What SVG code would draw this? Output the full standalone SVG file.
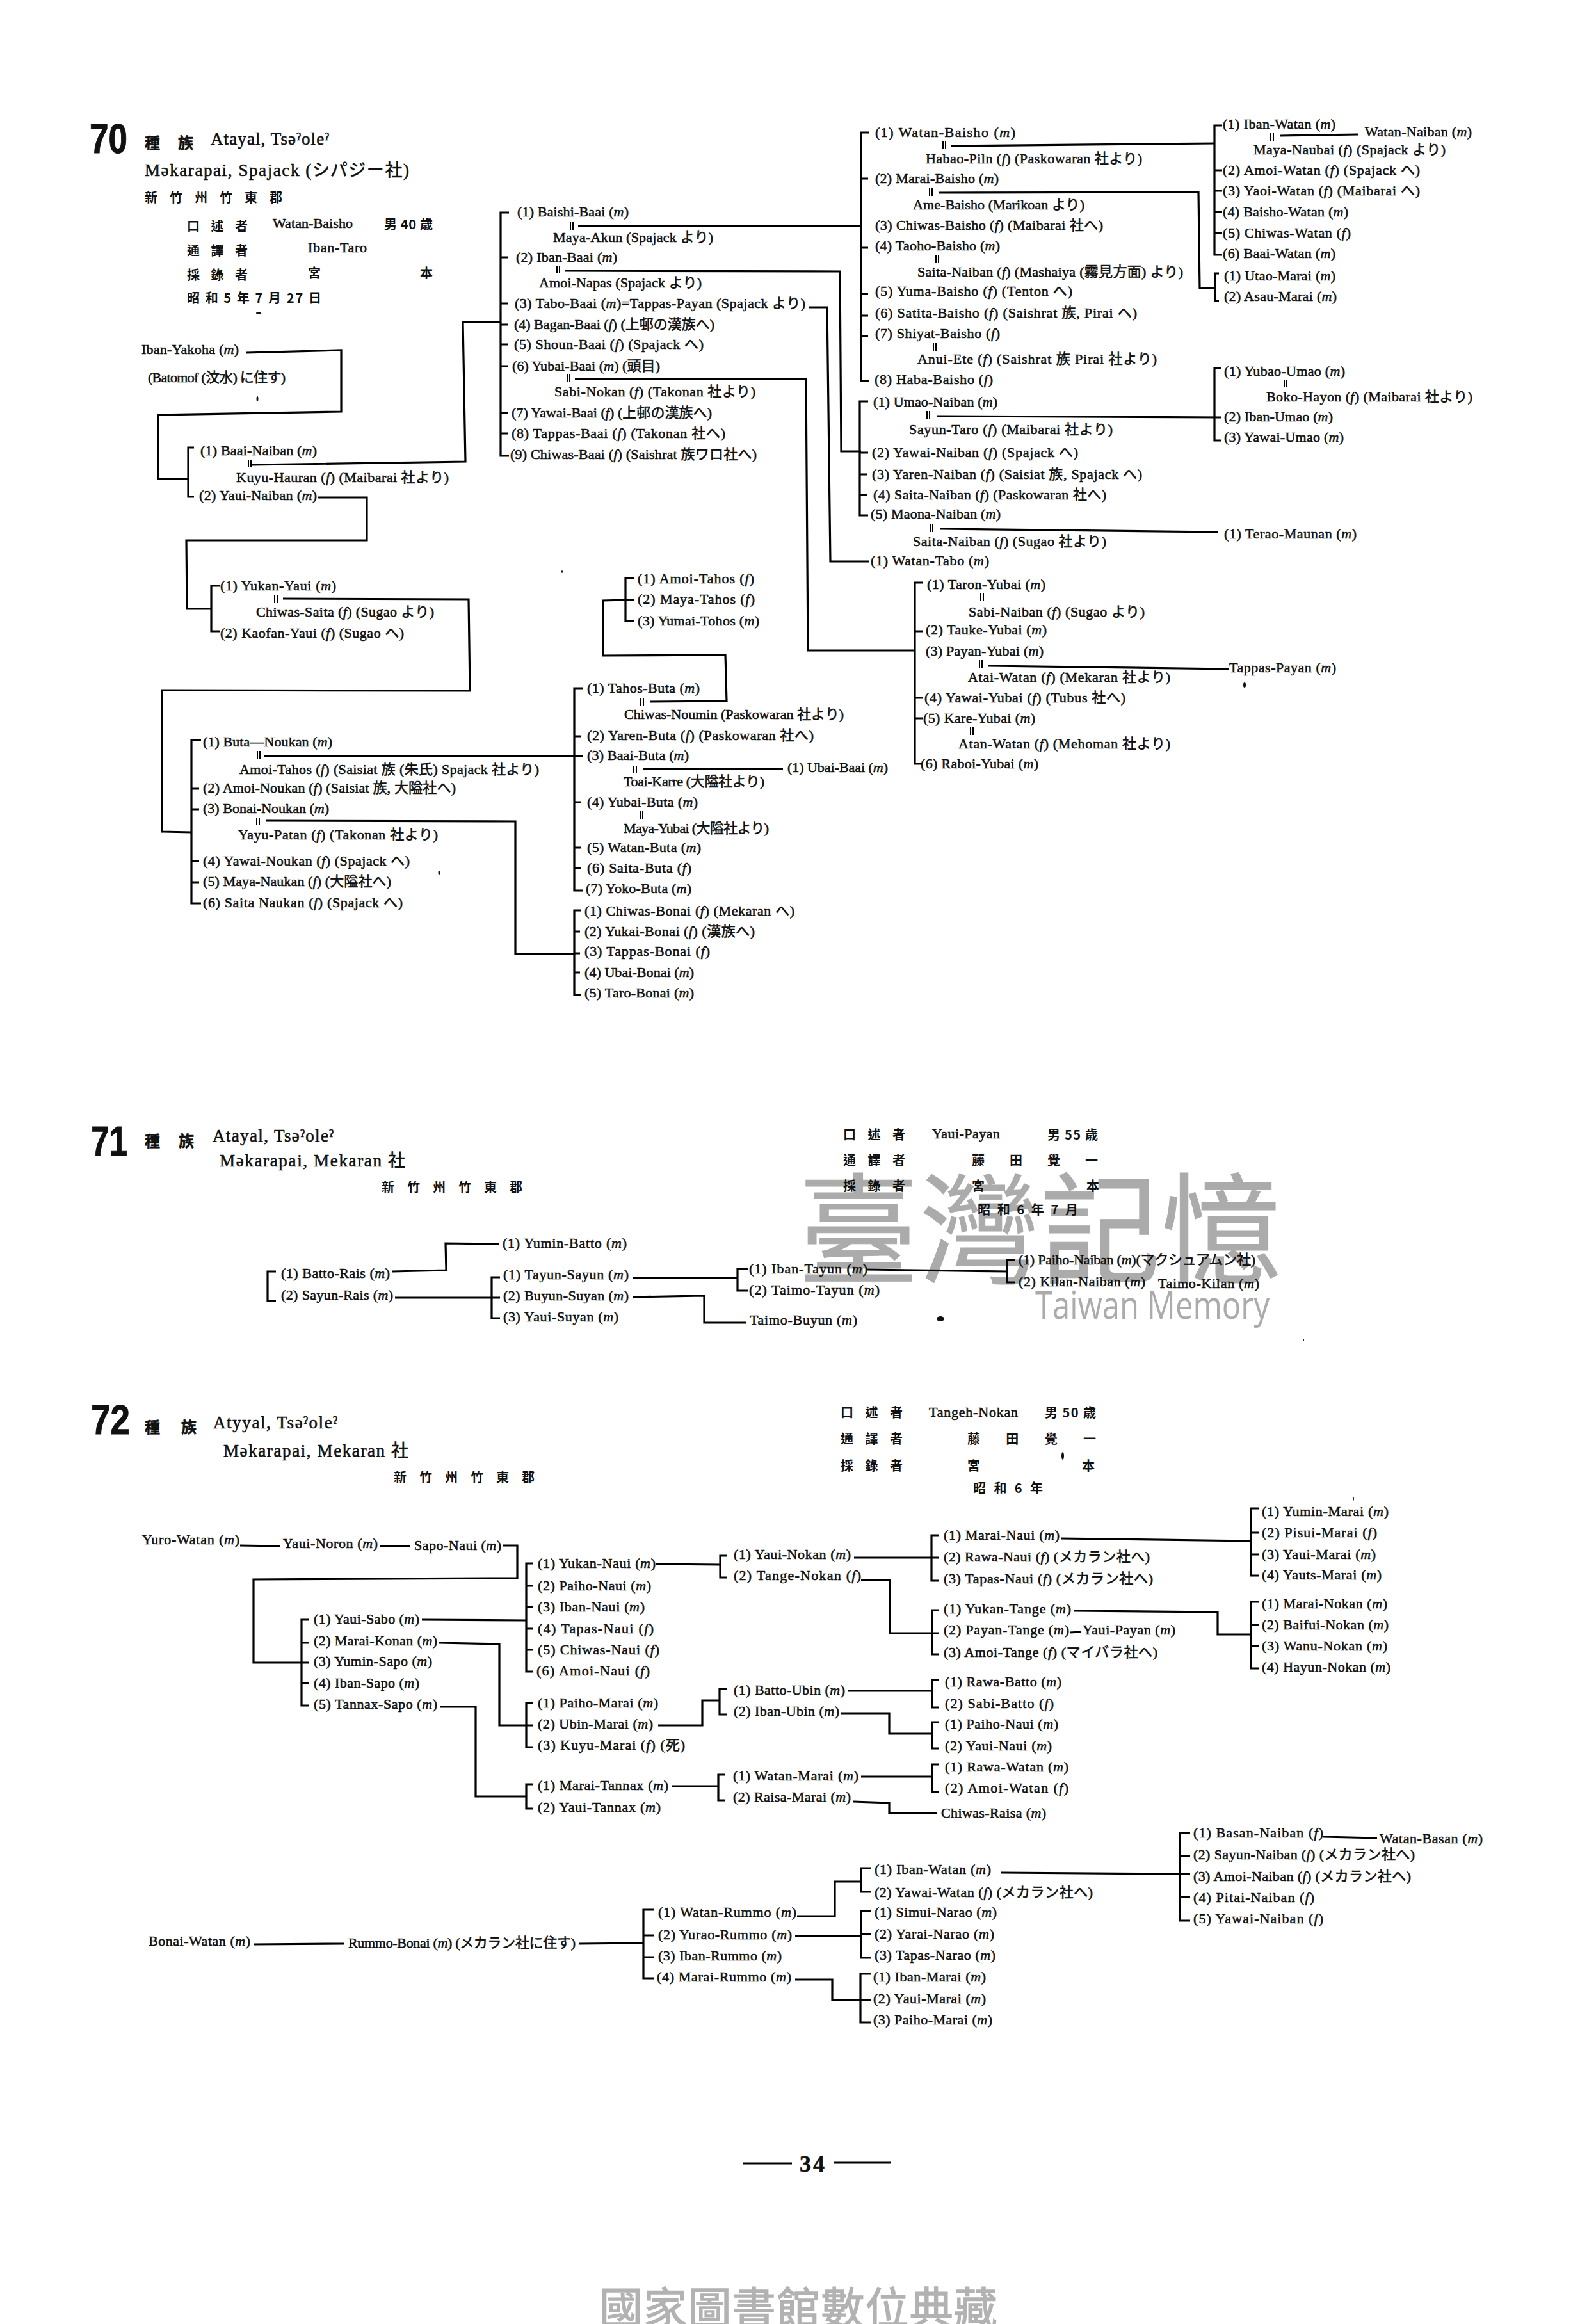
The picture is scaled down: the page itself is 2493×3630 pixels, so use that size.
<svg xmlns="http://www.w3.org/2000/svg" width="2493" height="3630" viewBox="0 0 2493 3630">
<style>
text{font-family:"Liberation Serif","Noto Sans CJK JP",serif;font-size:22px;fill:#111;stroke:#111;stroke-width:.6px}
.i{font-style:italic}
.n{font-family:"Liberation Sans","Noto Sans CJK JP",sans-serif;font-weight:700;font-size:64px;stroke-width:1px}
.k{font-family:"Noto Sans CJK TC",sans-serif;font-weight:700;font-size:24px}
.h{font-family:"Noto Sans CJK TC","Liberation Serif",sans-serif;font-weight:700;font-size:20px;stroke:none}
.s{font-size:27px}
.w{font-family:"Noto Sans CJK TC",sans-serif;fill:#ababab;stroke:#ababab;stroke-width:1px;font-size:188px}
.e{font-family:"Open Sans",sans-serif;fill:#ababab;stroke:none;font-size:60px}
.b{font-family:"Noto Sans CJK TC",sans-serif;fill:#b2b2b2;stroke:#b2b2b2;stroke-width:1.5px;font-size:68px}
.p{font-size:36px;font-weight:700}
#connectors path{fill:none;stroke:#000;stroke-width:3.2px}
.eq{fill:none;stroke:#000;stroke-width:2px}
#specks *{fill:#111}
</style>
<rect width="2493" height="3630" fill="#fff"/>
<defs><path id="eq" class="eq" d="M-2 -6V6M2 -6V6"/></defs>
<g id="watermark">
<text class="w" x="1247" y="1990" textLength="755">臺灣記憶</text>
<text class="e" x="1617" y="2060" textLength="366" lengthAdjust="spacingAndGlyphs">Taiwan Memory</text>
<text class="b" x="936" y="3630" textLength="622">國家圖書館數位典藏</text>
</g>
<g id="connectors">
<path d="M385 551L533 547V643L247 648V748H294"/>
<path d="M303 699H294V776H303"/>
<path d="M393 726L727 721L723 503H782"/>
<path d="M795 332H782V712H795M782 402H793M782 474H793M782 507H793M782 538H793M782 572H793M782 645H793M782 677H793"/>
<path d="M903 353H1345"/>
<path d="M882 423L1312 424L1314 705H1345"/>
<path d="M1263 480H1292L1297 877H1358"/>
<path d="M898 592H1259L1262 1016H1429"/>
<path d="M1358 207H1345V595H1358M1345 279H1356M1345 387H1356M1345 459H1356M1345 493H1356M1345 525H1356"/>
<path d="M1485 228L1897 224"/>
<path d="M1909 196H1897V398H1909M1897 266H1909M1897 298H1909M1897 331H1909M1897 364H1909"/>
<path d="M2000 212L2121 210"/>
<path d="M1466 301L1872 300L1874 450H1898"/>
<path d="M1904 427H1898V470H1904"/>
<path d="M1356 627H1343V805H1356M1343 707H1356M1343 741H1354M1343 773H1354"/>
<path d="M1463 650L1908 652"/>
<path d="M1908 575H1897V688H1908"/>
<path d="M1469 826L1903 831"/>
<path d="M496 777H573V844H291L292 951H330"/>
<path d="M343 915H330V986H343"/>
<path d="M442 935L732 936L734 1079L253 1078V1299L299 1300"/>
<path d="M314 1156H299V1411H314M299 1232H311M299 1264H311M299 1345H311M299 1378H311"/>
<path d="M413 1181H910"/>
<path d="M416 1282L805 1283V1490H897"/>
<path d="M910 1075H897V1391H910M897 1150H908M897 1253H908M897 1324H908M897 1356H908"/>
<path d="M1005 1201H1223"/>
<path d="M1016 1096L1135 1095L1133 1023L942 1024V938L977 937"/>
<path d="M990 903H977V970H990M977 937H990"/>
<path d="M908 1422H897V1554H908M897 1455H906M897 1489H906M897 1519H906"/>
<path d="M1442 910H1429V1193H1442M1429 986H1442M1429 1090H1442M1429 1122H1442"/>
<path d="M1544 1040L1920 1045"/>
<path d="M613 1986L697 1984L696 1942L780 1943"/>
<path d="M431 1986H418V2032H431"/>
<path d="M617 2027H781"/>
<path d="M781 1995H768V2059H781"/>
<path d="M988 1996H1152"/>
<path d="M1168 1982H1152V2016H1168"/>
<path d="M988 2026L1100 2024V2066H1166"/>
<path d="M1355 1983L1573 1986"/>
<path d="M1585 1968H1573V2003H1585"/>
<path d="M375 2414L437 2415M594 2415H640"/>
<path d="M785 2414H808V2465L396 2467V2597H483"/>
<path d="M832 2442H822V2611H832M822 2477H832M822 2510H832M822 2544H832M822 2577H832"/>
<path d="M483 2530H471V2664H483M471 2566H483M471 2629H483"/>
<path d="M659 2530L822 2531"/>
<path d="M685 2566L780 2568V2695H832"/>
<path d="M688 2666H743V2806H822"/>
<path d="M832 2660H822V2729H832"/>
<path d="M832 2787H822V2825H832"/>
<path d="M1024 2443L1125 2444"/>
<path d="M1136 2430H1125V2464H1136"/>
<path d="M1028 2695H1097V2656H1124"/>
<path d="M1135 2638H1124V2678H1135"/>
<path d="M1049 2790H1122"/>
<path d="M1133 2772H1122V2812H1133"/>
<path d="M1334 2433H1466"/>
<path d="M1466 2398H1455V2469H1466"/>
<path d="M1345 2468H1390V2551H1466"/>
<path d="M1466 2515H1456V2584H1466"/>
<path d="M1657 2403L1954 2407"/>
<path d="M1966 2356H1954V2461H1966M1954 2394H1966M1954 2428H1966"/>
<path d="M1678 2516L1902 2518V2553H1954"/>
<path d="M1966 2502H1954V2606H1966M1954 2538H1966M1954 2571H1966"/>
<path d="M1671 2550L1688 2549"/>
<path d="M1324 2641H1455"/>
<path d="M1466 2624H1456V2667H1466"/>
<path d="M1313 2676H1389V2708H1455"/>
<path d="M1466 2690H1456V2731H1466"/>
<path d="M1345 2775H1455"/>
<path d="M1466 2756H1456V2799H1466"/>
<path d="M1333 2814L1389 2816V2832H1464"/>
<path d="M396 3037L538 3036M905 3036L1005 3035"/>
<path d="M1021 2983H1005V3090H1021M1005 3023H1021M1005 3057H1021"/>
<path d="M1245 2993H1304V2939H1345"/>
<path d="M1361 2918H1345V2955H1361"/>
<path d="M1242 3024H1345"/>
<path d="M1361 2985H1345V3058H1361M1345 3021H1361"/>
<path d="M1242 3092H1300V3124H1344"/>
<path d="M1361 3083H1344V3159H1361M1344 3124H1361"/>
<path d="M1564 2925L1843 2927"/>
<path d="M1859 2863H1843V3000H1859M1843 2899H1859M1843 2963H1859M1843 2927H1859"/>
<path d="M2067 2869L2151 2871"/>
<path d="M1160 3379H1237M1303 3378H1392"/>
<use href="#eq" x="893" y="353"/><use href="#eq" x="872" y="421"/><use href="#eq" x="888" y="590"/><use href="#eq" x="390" y="724"/>
<use href="#eq" x="1475" y="227"/><use href="#eq" x="1454" y="300"/><use href="#eq" x="1464" y="405"/><use href="#eq" x="1460" y="542"/>
<use href="#eq" x="1987" y="214"/><use href="#eq" x="1450" y="648"/><use href="#eq" x="2008" y="599"/><use href="#eq" x="1455" y="825"/>
<use href="#eq" x="431" y="936"/><use href="#eq" x="404" y="1179"/><use href="#eq" x="403" y="1283"/><use href="#eq" x="992" y="1202"/>
<use href="#eq" x="1003" y="1096"/><use href="#eq" x="1002" y="1273"/><use href="#eq" x="1534" y="932"/><use href="#eq" x="1532" y="1037"/><use href="#eq" x="1518" y="1142"/>
</g>
<g id="head70">
<text class="n" x="140" y="239" textLength="59" lengthAdjust="spacingAndGlyphs">70</text>
<text class="k" x="226" y="232" textLength="76">種 族</text>
<text class="s" x="329" y="226" textLength="185">Atayal, Tsəˀoleˀ</text>
<text class="s" x="226" y="275" textLength="413">Məkarapai, Spajack (シパジー社)</text>
<text class="h" x="226" y="316" textLength="215">新 竹 州 竹 東 郡</text>
<text class="h" x="292" y="361" textLength="95">口 述 者</text>
<text x="426" y="356" textLength="125">Watan-Baisho</text>
<text class="h" x="600" y="358" textLength="76">男 40 歳</text>
<text class="h" x="292" y="399" textLength="95">通 譯 者</text>
<text x="481" y="394" textLength="92">Iban-Taro</text>
<text class="h" x="292" y="437" textLength="95">採 錄 者</text>
<text class="h" x="481" y="434">宮</text>
<text class="h" x="656" y="434">本</text>
<text class="h" x="292" y="473" textLength="210">昭 和 5 年 7 月 27 日</text>
</g>
<g id="n70-01"><text x="808" y="338" textLength="174">(1) Baishi-Baai (<tspan class="i">m</tspan>)</text></g>
<g id="n70-02"><text x="864" y="378" textLength="250">Maya-Akun (Spajack より)</text></g>
<g id="n70-03"><text x="806" y="409" textLength="158">(2) Iban-Baai (<tspan class="i">m</tspan>)</text></g>
<g id="n70-04"><text x="842" y="449" textLength="254">Amoi-Napas (Spajack より)</text></g>
<g id="n70-05"><text x="804" y="481" textLength="454">(3) Tabo-Baai (<tspan class="i">m</tspan>)=Tappas-Payan (Spajack より)</text></g>
<g id="n70-06"><text x="803" y="514" textLength="313">(4) Bagan-Baai (<tspan class="i">f</tspan>) (上邨の漢族へ)</text></g>
<g id="n70-07"><text x="803" y="545" textLength="296">(5) Shoun-Baai (<tspan class="i">f</tspan>) (Spajack へ)</text></g>
<g id="n70-08"><text x="800" y="579" textLength="231">(6) Yubai-Baai (<tspan class="i">m</tspan>) (頭目)</text></g>
<g id="n70-09"><text x="866" y="619" textLength="314">Sabi-Nokan (<tspan class="i">f</tspan>) (Takonan 社より)</text></g>
<g id="n70-10"><text x="799" y="652" textLength="313">(7) Yawai-Baai (<tspan class="i">f</tspan>) (上邨の漢族へ)</text></g>
<g id="n70-11"><text x="799" y="684" textLength="334">(8) Tappas-Baai (<tspan class="i">f</tspan>) (Takonan 社へ)</text></g>
<g id="n70-12"><text x="797" y="717" textLength="385">(9) Chiwas-Baai (<tspan class="i">f</tspan>) (Saishrat 族ワロ社へ)</text></g>
<g id="n70-13"><text x="221" y="553" textLength="152">Iban-Yakoha (<tspan class="i">m</tspan>)</text></g>
<g id="n70-14"><text x="231" y="597" textLength="215">(Batomof (汶水) に住す)</text></g>
<g id="n70-15"><text x="313" y="711" textLength="182">(1) Baai-Naiban (<tspan class="i">m</tspan>)</text></g>
<g id="n70-16"><text x="369" y="753" textLength="332">Kuyu-Hauran (<tspan class="i">f</tspan>) (Maibarai 社より)</text></g>
<g id="n70-17"><text x="311" y="781" textLength="184">(2) Yaui-Naiban (<tspan class="i">m</tspan>)</text></g>
<g id="n70-18"><text x="1367" y="214" textLength="219">(1) Watan-Baisho (<tspan class="i">m</tspan>)</text></g>
<g id="n70-19"><text x="1446" y="255" textLength="338">Habao-Piln (<tspan class="i">f</tspan>) (Paskowaran 社より)</text></g>
<g id="n70-20"><text x="1367" y="286" textLength="193">(2) Marai-Baisho (<tspan class="i">m</tspan>)</text></g>
<g id="n70-21"><text x="1426" y="327" textLength="268">Ame-Baisho (Marikoan より)</text></g>
<g id="n70-22"><text x="1367" y="359" textLength="356">(3) Chiwas-Baisho (<tspan class="i">f</tspan>) (Maibarai 社へ)</text></g>
<g id="n70-23"><text x="1367" y="391" textLength="195">(4) Taoho-Baisho (<tspan class="i">m</tspan>)</text></g>
<g id="n70-24"><text x="1433" y="432" textLength="415">Saita-Naiban (<tspan class="i">f</tspan>) (Mashaiya (霧見方面) より)</text></g>
<g id="n70-25"><text x="1367" y="462" textLength="308">(5) Yuma-Baisho (<tspan class="i">f</tspan>) (Tenton へ)</text></g>
<g id="n70-26"><text x="1367" y="496" textLength="409">(6) Satita-Baisho (<tspan class="i">f</tspan>) (Saishrat 族, Pirai へ)</text></g>
<g id="n70-27"><text x="1367" y="528" textLength="195">(7) Shiyat-Baisho (<tspan class="i">f</tspan>)</text></g>
<g id="n70-28"><text x="1433" y="568" textLength="374">Anui-Ete (<tspan class="i">f</tspan>) (Saishrat 族 Pirai 社より)</text></g>
<g id="n70-29"><text x="1366" y="600" textLength="185">(8) Haba-Baisho (<tspan class="i">f</tspan>)</text></g>
<g id="n70-30"><text x="1364" y="635" textLength="194">(1) Umao-Naiban (<tspan class="i">m</tspan>)</text></g>
<g id="n70-31"><text x="1420" y="678" textLength="318">Sayun-Taro (<tspan class="i">f</tspan>) (Maibarai 社より)</text></g>
<g id="n70-32"><text x="1362" y="714" textLength="322">(2) Yawai-Naiban (<tspan class="i">f</tspan>) (Spajack へ)</text></g>
<g id="n70-33"><text x="1362" y="748" textLength="422">(3) Yaren-Naiban (<tspan class="i">f</tspan>) (Saisiat 族, Spajack へ)</text></g>
<g id="n70-34"><text x="1364" y="780" textLength="364">(4) Saita-Naiban (<tspan class="i">f</tspan>) (Paskowaran 社へ)</text></g>
<g id="n70-35"><text x="1360" y="810" textLength="203">(5) Maona-Naiban (<tspan class="i">m</tspan>)</text></g>
<g id="n70-36"><text x="1426" y="853" textLength="302">Saita-Naiban (<tspan class="i">f</tspan>) (Sugao 社より)</text></g>
<g id="n70-37"><text x="1360" y="883" textLength="185">(1) Watan-Tabo (<tspan class="i">m</tspan>)</text></g>
<g id="n70-38"><text x="1910" y="201" textLength="176">(1) Iban-Watan (<tspan class="i">m</tspan>)</text></g>
<g id="n70-39"><text x="2132" y="213" textLength="167">Watan-Naiban (<tspan class="i">m</tspan>)</text></g>
<g id="n70-40"><text x="1958" y="241" textLength="300">Maya-Naubai (<tspan class="i">f</tspan>) (Spajack より)</text></g>
<g id="n70-41"><text x="1910" y="273" textLength="308">(2) Amoi-Watan (<tspan class="i">f</tspan>) (Spajack へ)</text></g>
<g id="n70-42"><text x="1910" y="305" textLength="308">(3) Yaoi-Watan (<tspan class="i">f</tspan>) (Maibarai へ)</text></g>
<g id="n70-43"><text x="1910" y="338" textLength="196">(4) Baisho-Watan (<tspan class="i">m</tspan>)</text></g>
<g id="n70-44"><text x="1910" y="371" textLength="200">(5) Chiwas-Watan (<tspan class="i">f</tspan>)</text></g>
<g id="n70-45"><text x="1910" y="403" textLength="176">(6) Baai-Watan (<tspan class="i">m</tspan>)</text></g>
<g id="n70-46"><text x="1912" y="438" textLength="174">(1) Utao-Marai (<tspan class="i">m</tspan>)</text></g>
<g id="n70-47"><text x="1912" y="470" textLength="176">(2) Asau-Marai (<tspan class="i">m</tspan>)</text></g>
<g id="n70-48"><text x="1912" y="587" textLength="189">(1) Yubao-Umao (<tspan class="i">m</tspan>)</text></g>
<g id="n70-49"><text x="1978" y="627" textLength="322">Boko-Hayon (<tspan class="i">f</tspan>) (Maibarai 社より)</text></g>
<g id="n70-50"><text x="1912" y="658" textLength="170">(2) Iban-Umao (<tspan class="i">m</tspan>)</text></g>
<g id="n70-51"><text x="1912" y="690" textLength="187">(3) Yawai-Umao (<tspan class="i">m</tspan>)</text></g>
<g id="n70-52"><text x="1912" y="841" textLength="207">(1) Terao-Maunan (<tspan class="i">m</tspan>)</text></g>
<g id="n70-53"><text x="344" y="922" textLength="181">(1) Yukan-Yaui (<tspan class="i">m</tspan>)</text></g>
<g id="n70-54"><text x="400" y="963" textLength="278">Chiwas-Saita (<tspan class="i">f</tspan>) (Sugao より)</text></g>
<g id="n70-55"><text x="344" y="996" textLength="287">(2) Kaofan-Yaui (<tspan class="i">f</tspan>) (Sugao へ)</text></g>
<g id="n70-56"><text x="317" y="1166" textLength="202">(1) Buta—Noukan (<tspan class="i">m</tspan>)</text></g>
<g id="n70-57"><text x="374" y="1209" textLength="468">Amoi-Tahos (<tspan class="i">f</tspan>) (Saisiat 族 (朱氏) Spajack 社より)</text></g>
<g id="n70-58"><text x="317" y="1238" textLength="395">(2) Amoi-Noukan (<tspan class="i">f</tspan>) (Saisiat 族, 大隘社へ)</text></g>
<g id="n70-59"><text x="317" y="1270" textLength="197">(3) Bonai-Noukan (<tspan class="i">m</tspan>)</text></g>
<g id="n70-60"><text x="372" y="1311" textLength="312">Yayu-Patan (<tspan class="i">f</tspan>) (Takonan 社より)</text></g>
<g id="n70-61"><text x="317" y="1352" textLength="323">(4) Yawai-Noukan (<tspan class="i">f</tspan>) (Spajack へ)</text></g>
<g id="n70-62"><text x="317" y="1384" textLength="294">(5) Maya-Naukan (<tspan class="i">f</tspan>) (大隘社へ)</text></g>
<g id="n70-63"><text x="317" y="1417" textLength="312">(6) Saita Naukan (<tspan class="i">f</tspan>) (Spajack へ)</text></g>
<g id="n70-64"><text x="917" y="1082" textLength="176">(1) Tahos-Buta (<tspan class="i">m</tspan>)</text></g>
<g id="n70-65"><text x="975" y="1123" textLength="343">Chiwas-Noumin (Paskowaran 社より)</text></g>
<g id="n70-66"><text x="917" y="1156" textLength="354">(2) Yaren-Buta (<tspan class="i">f</tspan>) (Paskowaran 社へ)</text></g>
<g id="n70-67"><text x="917" y="1187" textLength="159">(3) Baai-Buta (<tspan class="i">m</tspan>)</text></g>
<g id="n70-68"><text x="974" y="1228" textLength="220">Toai-Karre (大隘社より)</text></g>
<g id="n70-69"><text x="1230" y="1206" textLength="157">(1) Ubai-Baai (<tspan class="i">m</tspan>)</text></g>
<g id="n70-70"><text x="917" y="1260" textLength="173">(4) Yubai-Buta (<tspan class="i">m</tspan>)</text></g>
<g id="n70-71"><text x="974" y="1301" textLength="227">Maya-Yubai (大隘社より)</text></g>
<g id="n70-72"><text x="917" y="1331" textLength="178">(5) Watan-Buta (<tspan class="i">m</tspan>)</text></g>
<g id="n70-73"><text x="917" y="1363" textLength="163">(6) Saita-Buta (<tspan class="i">f</tspan>)</text></g>
<g id="n70-74"><text x="915" y="1395" textLength="165">(7) Yoko-Buta (<tspan class="i">m</tspan>)</text></g>
<g id="n70-75"><text x="996" y="911" textLength="182">(1) Amoi-Tahos (<tspan class="i">f</tspan>)</text></g>
<g id="n70-76"><text x="996" y="943" textLength="183">(2) Maya-Tahos (<tspan class="i">f</tspan>)</text></g>
<g id="n70-77"><text x="996" y="977" textLength="190">(3) Yumai-Tohos (<tspan class="i">m</tspan>)</text></g>
<g id="n70-78"><text x="913" y="1430" textLength="328">(1) Chiwas-Bonai (<tspan class="i">f</tspan>) (Mekaran へ)</text></g>
<g id="n70-79"><text x="913" y="1462" textLength="266">(2) Yukai-Bonai (<tspan class="i">f</tspan>) (漢族へ)</text></g>
<g id="n70-80"><text x="913" y="1493" textLength="196">(3) Tappas-Bonai (<tspan class="i">f</tspan>)</text></g>
<g id="n70-81"><text x="913" y="1526" textLength="171">(4) Ubai-Bonai (<tspan class="i">m</tspan>)</text></g>
<g id="n70-82"><text x="913" y="1558" textLength="171">(5) Taro-Bonai (<tspan class="i">m</tspan>)</text></g>
<g id="n70-83"><text x="1448" y="920" textLength="185">(1) Taron-Yubai (<tspan class="i">m</tspan>)</text></g>
<g id="n70-84"><text x="1513" y="963" textLength="275">Sabi-Naiban (<tspan class="i">f</tspan>) (Sugao より)</text></g>
<g id="n70-85"><text x="1446" y="991" textLength="189">(2) Tauke-Yubai (<tspan class="i">m</tspan>)</text></g>
<g id="n70-86"><text x="1446" y="1024" textLength="184">(3) Payan-Yubai (<tspan class="i">m</tspan>)</text></g>
<g id="n70-87"><text x="1512" y="1065" textLength="316">Atai-Watan (<tspan class="i">f</tspan>) (Mekaran 社より)</text></g>
<g id="n70-88"><text x="1920" y="1050" textLength="167">Tappas-Payan (<tspan class="i">m</tspan>)</text></g>
<g id="n70-89"><text x="1444" y="1097" textLength="314">(4) Yawai-Yubai (<tspan class="i">f</tspan>) (Tubus 社へ)</text></g>
<g id="n70-90"><text x="1442" y="1129" textLength="175">(5) Kare-Yubai (<tspan class="i">m</tspan>)</text></g>
<g id="n70-91"><text x="1497" y="1169" textLength="331">Atan-Watan (<tspan class="i">f</tspan>) (Mehoman 社より)</text></g>
<g id="n70-92"><text x="1438" y="1200" textLength="184">(6) Raboi-Yubai (<tspan class="i">m</tspan>)</text></g>
<g id="head71">
<text class="n" x="142" y="1805" textLength="57" lengthAdjust="spacingAndGlyphs">71</text>
<text class="k" x="226" y="1791" textLength="77">種 族</text>
<text class="s" x="332" y="1783" textLength="189">Atayal, Tsəˀoleˀ</text>
<text class="s" x="343" y="1822" textLength="290">Məkarapai, Mekaran 社</text>
<text class="h" x="596" y="1862" textLength="220">新 竹 州 竹 東 郡</text>
<text class="h" x="1317" y="1780" textLength="97">口 述 者</text>
<text x="1456" y="1778" textLength="106">Yaui-Payan</text>
<text class="h" x="1636" y="1780" textLength="79">男 55 歳</text>
<text class="h" x="1317" y="1820" textLength="97">通 譯 者</text>
<text class="h" x="1518" y="1820" textLength="197">藤 田 覺 一</text>
<text class="h" x="1317" y="1860" textLength="97">採 錄 者</text>
<text class="h" x="1518" y="1860">宮</text>
<text class="h" x="1697" y="1860">本</text>
<text class="h" x="1527" y="1897" textLength="157">昭 和 6 年 7 月</text>
</g>
<g id="n71-01"><text x="785" y="1949" textLength="194">(1) Yumin-Batto (<tspan class="i">m</tspan>)</text></g>
<g id="n71-02"><text x="439" y="1996" textLength="170">(1) Batto-Rais (<tspan class="i">m</tspan>)</text></g>
<g id="n71-03"><text x="439" y="2030" textLength="175">(2) Sayun-Rais (<tspan class="i">m</tspan>)</text></g>
<g id="n71-04"><text x="786" y="1998" textLength="196">(1) Tayun-Sayun (<tspan class="i">m</tspan>)</text></g>
<g id="n71-05"><text x="786" y="2031" textLength="196">(2) Buyun-Suyan (<tspan class="i">m</tspan>)</text></g>
<g id="n71-06"><text x="786" y="2064" textLength="180">(3) Yaui-Suyan (<tspan class="i">m</tspan>)</text></g>
<g id="n71-07"><text x="1170" y="1989" textLength="185">(1) Iban-Tayun (<tspan class="i">m</tspan>)</text></g>
<g id="n71-08"><text x="1170" y="2022" textLength="204">(2) Taimo-Tayun (<tspan class="i">m</tspan>)</text></g>
<g id="n71-09"><text x="1171" y="2069" textLength="168">Taimo-Buyun (<tspan class="i">m</tspan>)</text></g>
<g id="n71-10"><text x="1591" y="1975" textLength="370">(1) Paiho-Naiban (<tspan class="i">m</tspan>)(マクシュアムン社)</text></g>
<g id="n71-11"><text x="1591" y="2009" textLength="198">(2) Kilan-Naiban (<tspan class="i">m</tspan>)</text></g>
<g id="n71-12"><text x="1809" y="2012" textLength="158">Taimo-Kilan (<tspan class="i">m</tspan>)</text></g>
<g id="head72">
<text class="n" x="142" y="2240" textLength="61" lengthAdjust="spacingAndGlyphs">72</text>
<text class="k" x="226" y="2238" textLength="81">種 族</text>
<text class="s" x="333" y="2231" textLength="194">Atyyal, Tsəˀoleˀ</text>
<text class="s" x="349" y="2275" textLength="289">Məkarapai, Mekaran 社</text>
<text class="h" x="615" y="2315" textLength="220">新 竹 州 竹 東 郡</text>
<text class="h" x="1313" y="2214" textLength="97">口 述 者</text>
<text x="1451" y="2213" textLength="139">Tangeh-Nokan</text>
<text class="h" x="1632" y="2214" textLength="80">男 50 歳</text>
<text class="h" x="1313" y="2255" textLength="97">通 譯 者</text>
<text class="h" x="1511" y="2255" textLength="201">藤 田 覺 一</text>
<text class="h" x="1313" y="2297" textLength="97">採 錄 者</text>
<text class="h" x="1511" y="2297">宮</text>
<text class="h" x="1690" y="2297">本</text>
<text class="h" x="1520" y="2332" textLength="109">昭 和 6 年</text>
</g>
<g id="n72-01"><text x="222" y="2412" textLength="152">Yuro-Watan (<tspan class="i">m</tspan>)</text></g>
<g id="n72-02"><text x="442" y="2418" textLength="148">Yaui-Noron (<tspan class="i">m</tspan>)</text></g>
<g id="n72-03"><text x="647" y="2421" textLength="136">Sapo-Naui (<tspan class="i">m</tspan>)</text></g>
<g id="n72-04"><text x="840" y="2449" textLength="184">(1) Yukan-Naui (<tspan class="i">m</tspan>)</text></g>
<g id="n72-05"><text x="840" y="2484" textLength="177">(2) Paiho-Naui (<tspan class="i">m</tspan>)</text></g>
<g id="n72-06"><text x="840" y="2517" textLength="167">(3) Iban-Naui (<tspan class="i">m</tspan>)</text></g>
<g id="n72-07"><text x="840" y="2551" textLength="181">(4) Tapas-Naui (<tspan class="i">f</tspan>)</text></g>
<g id="n72-08"><text x="840" y="2584" textLength="190">(5) Chiwas-Naui (<tspan class="i">f</tspan>)</text></g>
<g id="n72-09"><text x="838" y="2617" textLength="177">(6) Amoi-Naui (<tspan class="i">f</tspan>)</text></g>
<g id="n72-10"><text x="490" y="2536" textLength="165">(1) Yaui-Sabo (<tspan class="i">m</tspan>)</text></g>
<g id="n72-11"><text x="490" y="2570" textLength="193">(2) Marai-Konan (<tspan class="i">m</tspan>)</text></g>
<g id="n72-12"><text x="490" y="2602" textLength="185">(3) Yumin-Sapo (<tspan class="i">m</tspan>)</text></g>
<g id="n72-13"><text x="490" y="2636" textLength="165">(4) Iban-Sapo (<tspan class="i">m</tspan>)</text></g>
<g id="n72-14"><text x="490" y="2669" textLength="193">(5) Tannax-Sapo (<tspan class="i">m</tspan>)</text></g>
<g id="n72-15"><text x="840" y="2667" textLength="188">(1) Paiho-Marai (<tspan class="i">m</tspan>)</text></g>
<g id="n72-16"><text x="840" y="2700" textLength="180">(2) Ubin-Marai (<tspan class="i">m</tspan>)</text></g>
<g id="n72-17"><text x="840" y="2733" textLength="230">(3) Kuyu-Marai (<tspan class="i">f</tspan>) (死)</text></g>
<g id="n72-18"><text x="840" y="2796" textLength="204">(1) Marai-Tannax (<tspan class="i">m</tspan>)</text></g>
<g id="n72-19"><text x="840" y="2830" textLength="192">(2) Yaui-Tannax (<tspan class="i">m</tspan>)</text></g>
<g id="n72-20"><text x="1146" y="2435" textLength="183">(1) Yaui-Nokan (<tspan class="i">m</tspan>)</text></g>
<g id="n72-21"><text x="1146" y="2468" textLength="199">(2) Tange-Nokan (<tspan class="i">f</tspan>)</text></g>
<g id="n72-22"><text x="1146" y="2647" textLength="174">(1) Batto-Ubin (<tspan class="i">m</tspan>)</text></g>
<g id="n72-23"><text x="1146" y="2680" textLength="165">(2) Iban-Ubin (<tspan class="i">m</tspan>)</text></g>
<g id="n72-24"><text x="1145" y="2781" textLength="196">(1) Watan-Marai (<tspan class="i">m</tspan>)</text></g>
<g id="n72-25"><text x="1145" y="2814" textLength="184">(2) Raisa-Marai (<tspan class="i">m</tspan>)</text></g>
<g id="n72-26"><text x="1474" y="2405" textLength="181">(1) Marai-Naui (<tspan class="i">m</tspan>)</text></g>
<g id="n72-27"><text x="1474" y="2439" textLength="322">(2) Rawa-Naui (<tspan class="i">f</tspan>) (メカラン社へ)</text></g>
<g id="n72-28"><text x="1474" y="2473" textLength="327">(3) Tapas-Naui (<tspan class="i">f</tspan>) (メカラン社へ)</text></g>
<g id="n72-29"><text x="1474" y="2520" textLength="199">(1) Yukan-Tange (<tspan class="i">m</tspan>)</text></g>
<g id="n72-30"><text x="1474" y="2553" textLength="196">(2) Payan-Tange (<tspan class="i">m</tspan>)</text></g>
<g id="n72-31"><text x="1691" y="2553" textLength="145">Yaui-Payan (<tspan class="i">m</tspan>)</text></g>
<g id="n72-32"><text x="1474" y="2588" textLength="334">(3) Amoi-Tange (<tspan class="i">f</tspan>) (マイバラ社へ)</text></g>
<g id="n72-33"><text x="1476" y="2634" textLength="182">(1) Rawa-Batto (<tspan class="i">m</tspan>)</text></g>
<g id="n72-34"><text x="1476" y="2668" textLength="170">(2) Sabi-Batto (<tspan class="i">f</tspan>)</text></g>
<g id="n72-35"><text x="1476" y="2700" textLength="177">(1) Paiho-Naui (<tspan class="i">m</tspan>)</text></g>
<g id="n72-36"><text x="1476" y="2734" textLength="167">(2) Yaui-Naui (<tspan class="i">m</tspan>)</text></g>
<g id="n72-37"><text x="1476" y="2767" textLength="193">(1) Rawa-Watan (<tspan class="i">m</tspan>)</text></g>
<g id="n72-38"><text x="1476" y="2800" textLength="193">(2) Amoi-Watan (<tspan class="i">f</tspan>)</text></g>
<g id="n72-39"><text x="1470" y="2839" textLength="164">Chiwas-Raisa (<tspan class="i">m</tspan>)</text></g>
<g id="n72-40"><text x="1971" y="2368" textLength="198">(1) Yumin-Marai (<tspan class="i">m</tspan>)</text></g>
<g id="n72-41"><text x="1971" y="2401" textLength="180">(2) Pisui-Marai (<tspan class="i">f</tspan>)</text></g>
<g id="n72-42"><text x="1971" y="2435" textLength="178">(3) Yaui-Marai (<tspan class="i">m</tspan>)</text></g>
<g id="n72-43"><text x="1971" y="2467" textLength="187">(4) Yauts-Marai (<tspan class="i">m</tspan>)</text></g>
<g id="n72-44"><text x="1971" y="2512" textLength="196">(1) Marai-Nokan (<tspan class="i">m</tspan>)</text></g>
<g id="n72-45"><text x="1971" y="2545" textLength="198">(2) Baifui-Nokan (<tspan class="i">m</tspan>)</text></g>
<g id="n72-46"><text x="1971" y="2578" textLength="196">(3) Wanu-Nokan (<tspan class="i">m</tspan>)</text></g>
<g id="n72-47"><text x="1971" y="2611" textLength="201">(4) Hayun-Nokan (<tspan class="i">m</tspan>)</text></g>
<g id="n72-48"><text x="232" y="3039" textLength="159">Bonai-Watan (<tspan class="i">m</tspan>)</text></g>
<g id="n72-49"><text x="544" y="3042" textLength="355">Rummo-Bonai (<tspan class="i">m</tspan>) (メカラン社に住す)</text></g>
<g id="n72-50"><text x="1028" y="2994" textLength="216">(1) Watan-Rummo (<tspan class="i">m</tspan>)</text></g>
<g id="n72-51"><text x="1028" y="3029" textLength="209">(2) Yurao-Rummo (<tspan class="i">m</tspan>)</text></g>
<g id="n72-52"><text x="1028" y="3062" textLength="193">(3) Iban-Rummo (<tspan class="i">m</tspan>)</text></g>
<g id="n72-53"><text x="1026" y="3095" textLength="210">(4) Marai-Rummo (<tspan class="i">m</tspan>)</text></g>
<g id="n72-54"><text x="1366" y="2927" textLength="182">(1) Iban-Watan (<tspan class="i">m</tspan>)</text></g>
<g id="n72-55"><text x="1366" y="2963" textLength="341">(2) Yawai-Watan (<tspan class="i">f</tspan>) (メカラン社へ)</text></g>
<g id="n72-56"><text x="1366" y="2994" textLength="191">(1) Simui-Narao (<tspan class="i">m</tspan>)</text></g>
<g id="n72-57"><text x="1366" y="3028" textLength="187">(2) Yarai-Narao (<tspan class="i">m</tspan>)</text></g>
<g id="n72-58"><text x="1366" y="3061" textLength="189">(3) Tapas-Narao (<tspan class="i">m</tspan>)</text></g>
<g id="n72-59"><text x="1364" y="3095" textLength="176">(1) Iban-Marai (<tspan class="i">m</tspan>)</text></g>
<g id="n72-60"><text x="1364" y="3129" textLength="176">(2) Yaui-Marai (<tspan class="i">m</tspan>)</text></g>
<g id="n72-61"><text x="1364" y="3162" textLength="186">(3) Paiho-Marai (<tspan class="i">m</tspan>)</text></g>
<g id="n72-62"><text x="1864" y="2870" textLength="203">(1) Basan-Naiban (<tspan class="i">f</tspan>)</text></g>
<g id="n72-63"><text x="2155" y="2879" textLength="161">Watan-Basan (<tspan class="i">m</tspan>)</text></g>
<g id="n72-64"><text x="1864" y="2904" textLength="346">(2) Sayun-Naiban (<tspan class="i">f</tspan>) (メカラン社へ)</text></g>
<g id="n72-65"><text x="1864" y="2938" textLength="340">(3) Amoi-Naiban (<tspan class="i">f</tspan>) (メカラン社へ)</text></g>
<g id="n72-66"><text x="1864" y="2971" textLength="189">(4) Pitai-Naiban (<tspan class="i">f</tspan>)</text></g>
<g id="n72-67"><text x="1864" y="3004" textLength="203">(5) Yawai-Naiban (<tspan class="i">f</tspan>)</text></g>
<g id="page"><text class="p" x="1249" y="3392" textLength="39">34</text></g>
<g id="specks">
<ellipse cx="402" cy="623" rx="1.5" ry="4"/><ellipse cx="404" cy="489" rx="4" ry="1.5"/><ellipse cx="1944" cy="1070" rx="2" ry="4"/><ellipse cx="686" cy="1363" rx="1.5" ry="3"/><ellipse cx="878" cy="893" rx="1" ry="2"/><ellipse cx="1469" cy="2060" rx="6" ry="4"/><ellipse cx="1660" cy="2274" rx="2" ry="6"/><ellipse cx="2114" cy="2341" rx="1" ry="3"/><ellipse cx="2036" cy="2093" rx="1" ry="2"/>
</g>
</svg>
